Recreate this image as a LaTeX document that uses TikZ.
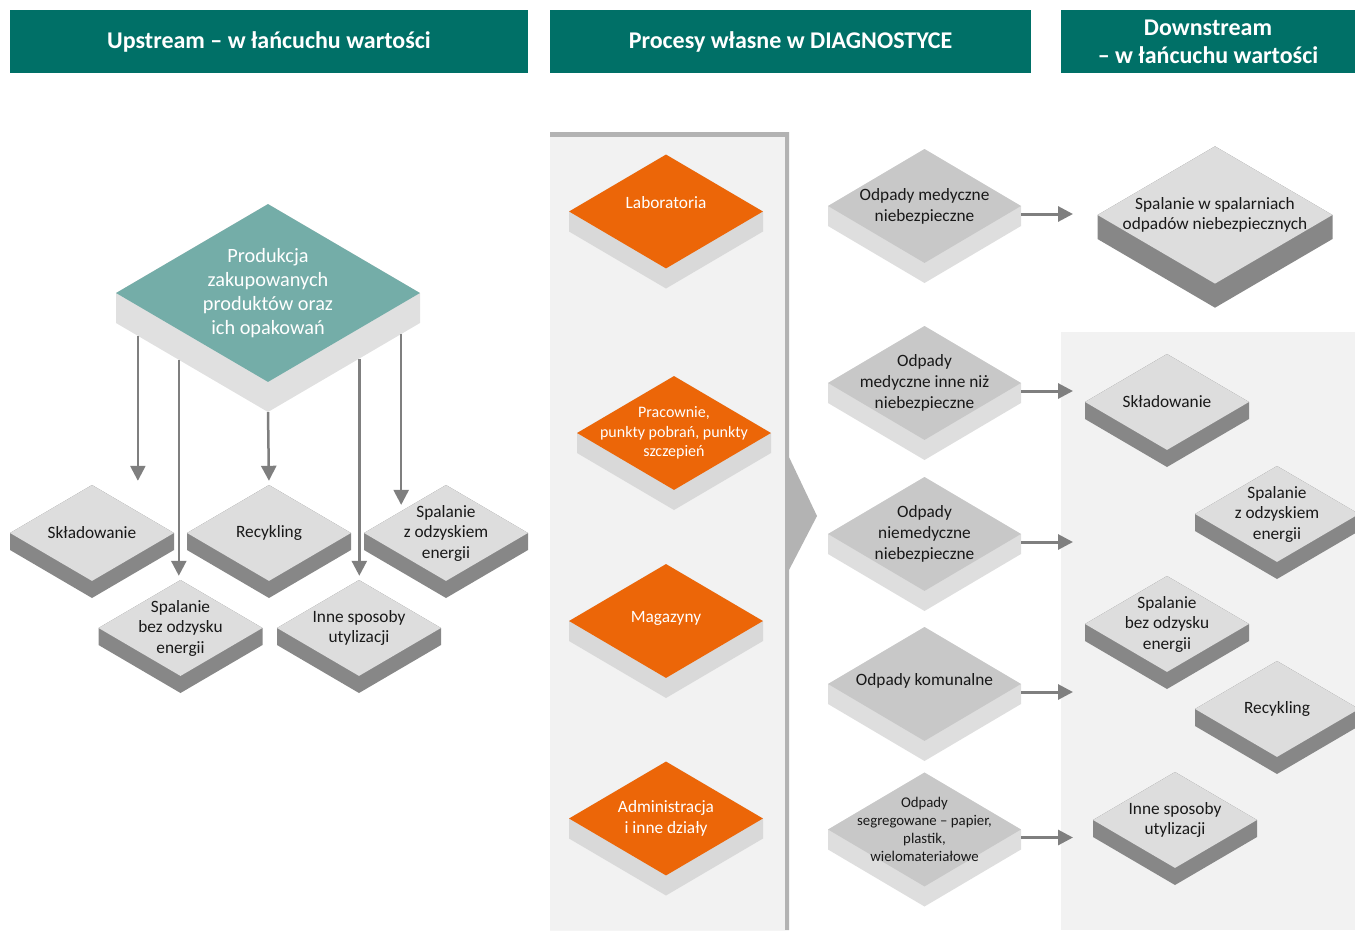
\documentclass[tikz,border=0pt]{standalone}
\usepackage{fontspec}
\setmainfont{Carlito}
\usetikzlibrary{shapes.geometric,arrows.meta,calc}

\definecolor{headteal}{RGB}{0,112,103}
\definecolor{prodteal}{RGB}{116,173,168}
\definecolor{prodside}{RGB}{224,224,224}
\definecolor{unitorange}{RGB}{236,102,8}
\definecolor{unitside}{RGB}{217,217,217}
\definecolor{wastetop}{RGB}{200,200,200}
\definecolor{wasteside}{RGB}{222,222,222}
\definecolor{fatetop}{RGB}{221,221,221}
\definecolor{fateside}{RGB}{135,135,135}
\definecolor{panelgrey}{RGB}{242,242,242}
\definecolor{rimgrey}{RGB}{179,179,179}
\definecolor{arrowgrey}{RGB}{127,127,127}

% [#1 text options] #2 name, #3 centre, #4 half width, #5 half height, #6 depth, #7 look, #8 text
\newcommand{\slab}[8][]{%
	\begin{scope}[shift={(#3)}]
		\fill[#7 side] (-#4,0) -- (0,-#5) -- (#4,0) -- (#4,#6) -- (0,#5+#6) -- (-#4,#6) -- cycle;
	\end{scope}
	\node[diamond, #7 top, minimum width=2*#4pt, minimum height=2*#5pt, inner sep=0pt] (#2) at (#3) {};
	\node[#7 text, #1] (#2-t) at (#3) {#8};
}

\begin{document}
\begin{tikzpicture}[x=1pt,y=-1pt,
	head/.style={fill=headteal, text=white, font=\bfseries\fontsize{24}{28}\selectfont, align=center, minimum height=63pt, inner sep=0pt},
	upstr top/.style={fill=prodteal}, upstr side/.style={fill=prodside},
	upstr text/.style={text=white, align=center, inner sep=0pt, font=\fontsize{20.3}{24}\selectfont},
	unit top/.style={fill=unitorange}, unit side/.style={fill=unitside},
	unit text/.style={text=white, align=center, inner sep=0pt, font=\fontsize{17.3}{20.5}\selectfont},
	waste top/.style={fill=wastetop}, waste side/.style={fill=wasteside},
	waste text/.style={text=black!90, align=center, inner sep=0pt, font=\fontsize{17.3}{21}\selectfont},
	fate top/.style={fill=fatetop}, fate side/.style={fill=fateside},
	fate text/.style={text=black!90, align=center, inner sep=0pt, font=\fontsize{17.3}{20.5}\selectfont},
	small/.style={font=\fontsize{16}{19.5}\selectfont},
	smaller/.style={font=\fontsize{14.8}{18}\selectfont},
	flow/.style={draw=arrowgrey, line width=3pt, -{Triangle[length=15pt,width=15pt]}},
	down/.style={flow, line width=2.5pt, shorten >=4pt}]
	\useasboundingbox (0,0) rectangle (1355,930);

	% headers
	\node[head, minimum width=518pt] (hup) at (269,41.5) {Upstream – w łańcuchu wartości};
	\node[head, minimum width=481pt] (hmid) at (790.5,41.5) {Procesy własne w DIAGNOSTYCE};
	\node[head, minimum width=294pt] (hdown) at (1208,41.5) {Downstream\\– w łańcuchu wartości};

	% panels
	\fill[rimgrey] (550,132) -- (789,132) -- (789,457) -- (817,516) -- (789,570) -- (789,930) -- (550,930) -- cycle;
	\fill[panelgrey] (550,137) rectangle (785,930);
	\fill[panelgrey] (1061,332) rectangle (1355,930);
	\coordinate (tip) at (1073,0);

	% upstream
	\slab{prod}{268,293}{152}{89}{30}{upstr}{Produkcja\\zakupowanych\\produktów oraz\\ich opakowań}
	\slab{skl1}{92,533}{82}{48}{17}{fate}{Składowanie}
	\slab{rec1}{269,533}{82}{48}{17}{fate}{Recykling}
	\slab{szo1}{446,533}{82}{48}{17}{fate}{Spalanie\\z odzyskiem\\energii}
	\slab{bez1}{180.5,628}{82}{48}{17}{fate}{Spalanie\\bez odzysku\\energii}
	\slab{inn1}{359,628}{82}{48}{17}{fate}{Inne sposoby\\utylizacji}

	\coordinate (p1) at ([yshift=-30pt]$(prod.west)!.145!(prod.south)$);
	\coordinate (p2) at ([yshift=-30pt]$(prod.west)!.414!(prod.south)$);
	\coordinate (p4) at ([yshift=-30pt]$(prod.south)!.6!(prod.east)$);
	\coordinate (p5) at ([yshift=-30pt]$(prod.south)!.875!(prod.east)$);
	\draw[down] (p1) -- (p1 |- skl1.north);
	\draw[down] (p2) -- (p2 |- bez1.north);
	\draw[down] ([yshift=-30pt]prod.south) -- (rec1.north);
	\draw[down] (p4) -- (p4 |- inn1.north);
	\draw[down] (p5) -- (p5 |- szo1.north west);

	% own processes
	\slab[yshift=9pt]{lab}{666,211.5}{97}{57}{20}{unit}{Laboratoria}
	\slab[small]{prac}{674,433}{97}{57}{20}{unit}{Pracownie,\\punkty pobrań, punkty\\szczepień}
	\slab[yshift=3pt]{mag}{666,621}{97}{57}{20}{unit}{Magazyny}
	\slab{adm}{666,818.5}{97}{57}{20}{unit}{Administracja\\i inne działy}

	% waste
	\slab{w1}{924.5,206}{96.5}{57}{20}{waste}{Odpady medyczne\\niebezpieczne}
	\slab{w2}{924.5,383}{96.5}{57}{20}{waste}{Odpady\\medyczne inne niż\\niebezpieczne}
	\slab{w3}{924.5,534}{96.5}{57}{20}{waste}{Odpady\\niemedyczne\\niebezpieczne}
	\slab[yshift=3pt]{w4}{924.5,684}{96.5}{57}{20}{waste}{Odpady komunalne}
	\slab[smaller]{w5}{924.5,829.5}{96.5}{57}{20}{waste}{Odpady\\segregowane – papier,\\plastik,\\wielomateriałowe}
	\foreach \w in {w1,w2,w3,w4,w5}
		\draw[flow] ([yshift=-8pt]\w.east) -- ([yshift=-8pt]\w.east -| tip);

	% downstream
	\slab{burn}{1215,215}{117.5}{68.7}{24}{fate}{Spalanie w spalarniach\\odpadów niebezpiecznych}
	\slab{skl2}{1167,402}{82}{48}{17}{fate}{Składowanie}
	\slab{szo2}{1277,514}{82}{48}{17}{fate}{Spalanie\\z odzyskiem\\energii}
	\slab{bez2}{1167,624}{82}{48}{17}{fate}{Spalanie\\bez odzysku\\energii}
	\slab{rec2}{1277,709}{82}{48}{17}{fate}{Recykling}
	\slab{inn2}{1175,820}{82}{48}{17}{fate}{Inne sposoby\\utylizacji}
\end{tikzpicture}
\end{document}
